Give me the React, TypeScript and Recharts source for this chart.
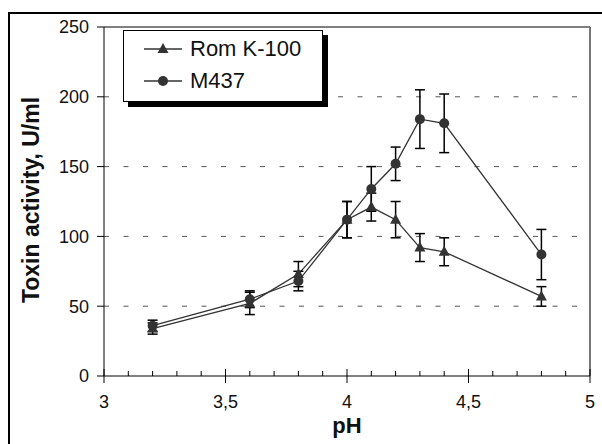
import React from 'react';
import {
  LineChart,
  Line,
  XAxis,
  YAxis,
  ErrorBar,
  ReferenceLine,
  Legend,
} from 'recharts';

const phValues = [3.2, 3.6, 3.8, 4.0, 4.1, 4.2, 4.3, 4.4, 4.8];
const romK100 = [34, 52, 73, 112, 121, 112, 92, 89, 57];
const romK100Err = [4, 8, 9, 13, 10, 13, 10, 10, 7];
const m437 = [36, 55, 68, 112, 134, 152, 184, 181, 87];
const m437Err = [4, 6, 7, 13, 16, 12, 21, 21, 18];

const xTicks = [3, 3.1, 3.2, 3.3, 3.4, 3.5, 3.6, 3.7, 3.8, 3.9, 4, 4.1, 4.2, 4.3, 4.4, 4.5, 4.6, 4.7, 4.8, 4.9, 5];
const xMajor = [3, 3.5, 4, 4.5, 5];
const yTicks = [0, 50, 100, 150, 200, 250];
const gridValues = [50, 100, 150, 200];

const FONT = '"Liberation Sans", Arial, sans-serif';
const MARK = '#333';

const data = phValues.map((ph, i) => ({
  ph,
  rom: romK100[i],
  romErr: romK100Err[i],
  m437: m437[i],
  m437Err: m437Err[i],
}));

const triangle = (cx: number, cy: number) =>
  `${cx},${cy - 6} ${cx + 5.5},${cy + 4} ${cx - 5.5},${cy + 4}`;

const TriangleDot = (props: any) => {
  const { cx, cy, index } = props;
  if (cx == null || cy == null) return <g key={index} />;
  return <polygon key={index} points={triangle(cx, cy)} fill={MARK} />;
};

const CircleDot = (props: any) => {
  const { cx, cy, index } = props;
  if (cx == null || cy == null) return <g key={index} />;
  return <circle key={index} cx={cx} cy={cy} r={5} fill={MARK} />;
};

const XTick = (props: any) => {
  const { x, y, payload } = props;
  const v = payload.value;
  const major = xMajor.some(m => Math.abs(m - v) < 1e-6);
  return (
    <g>
      {major ? (
        <line x1={x} x2={x} y1={y - 7} y2={y + 7} stroke="#000" />
      ) : (
        <line x1={x} x2={x} y1={y - 5} y2={y} stroke="#000" />
      )}
      {major && (
        <text x={x} y={y + 32} textAnchor="middle" fontSize={18} fontFamily={FONT} fill="#111">
          {String(v).replace('.', ',')}
        </text>
      )}
    </g>
  );
};

const LegendBox = () => (
  <div
    style={{
      position: 'relative',
      width: 200,
      height: 72,
      boxSizing: 'border-box',
      border: '1px solid #000',
      background: '#fff',
      boxShadow: '5px 5px 0 #000',
      fontFamily: FONT,
      fontSize: 22,
      color: '#111',
    }}
  >
    {[
      { name: 'Rom K-100', tri: true, top: 18 },
      { name: 'M437', tri: false, top: 50 },
    ].map(item => (
      <div key={item.name} style={{ position: 'absolute', left: 19, top: item.top - 12, height: 24, display: 'flex', alignItems: 'center' }}>
        <svg width={40} height={24}>
          <line x1={1} x2={39} y1={12} y2={12} stroke={MARK} strokeWidth={1.3} />
          {item.tri ? <polygon points={triangle(20, 12)} fill={MARK} /> : <circle cx={20} cy={12} r={5} fill={MARK} />}
        </svg>
        <span style={{ marginLeft: 7, lineHeight: '24px' }}>{item.name}</span>
      </div>
    ))}
  </div>
);

export default function App() {
  return (
    <div style={{ position: 'absolute', left: 0, top: 0, width: 602, height: 444, background: '#fff', overflow: 'hidden' }}>
      {/* outer figure frame */}
      <div style={{ position: 'absolute', left: 8, top: 12, width: 620, height: 460, borderTop: '2px solid #000', borderLeft: '2px solid #000' }} />
      <LineChart
        width={602}
        height={444}
        data={data}
        margin={{ top: 27, right: 12, bottom: 0, left: 0 }}
      >
        <XAxis
          dataKey="ph"
          type="number"
          domain={[3, 5]}
          ticks={xTicks}
          interval={0}
          height={68}
          tickLine={false}
          tickSize={0}
          tickMargin={0}
          tick={<XTick />}
          stroke="#000"
          allowDecimals
        />
        <YAxis
          type="number"
          domain={[0, 250]}
          ticks={yTicks}
          width={104}
          interval={0}
          tickSize={7}
          tickMargin={8}
          stroke="#000"
          tick={{ fontSize: 18, fontFamily: FONT, fill: '#111' }}
        />
        {gridValues.map(v => (
          <ReferenceLine key={v} y={v} stroke="#555" strokeDasharray="5 14.5" />
        ))}
        <ReferenceLine y={250} stroke="#000" strokeWidth={1} />
        <ReferenceLine x={5} stroke="#777" strokeWidth={2} />
        <Legend
          layout="vertical"
          align="center"
          verticalAlign="middle"
          content={<LegendBox />}
          wrapperStyle={{ left: 123, top: 30, width: 200, height: 72 }}
        />
        <Line
          dataKey="rom"
          name="Rom K-100"
          stroke={MARK}
          strokeWidth={1.3}
          dot={<TriangleDot />}
          activeDot={false}
          isAnimationActive={false}
        >
          <ErrorBar dataKey="romErr" direction="y" width={5} stroke="#000" strokeWidth={1.5} />
        </Line>
        <Line
          dataKey="m437"
          name="M437"
          stroke={MARK}
          strokeWidth={1.3}
          dot={<CircleDot />}
          activeDot={false}
          isAnimationActive={false}
        >
          <ErrorBar dataKey="m437Err" direction="y" width={5} stroke="#000" strokeWidth={1.5} />
        </Line>
      </LineChart>
      <div
        style={{
          position: 'absolute',
          left: 31,
          top: 200,
          transform: 'translate(-50%, -50%) rotate(-90deg)',
          whiteSpace: 'nowrap',
          fontFamily: FONT,
          fontWeight: 'bold',
          fontSize: 23,
          color: '#111',
        }}
      >
        Toxin activity, U/ml
      </div>
      <div
        style={{
          position: 'absolute',
          left: 347,
          top: 426,
          transform: 'translate(-50%, -50%)',
          whiteSpace: 'nowrap',
          fontFamily: FONT,
          fontWeight: 'bold',
          fontSize: 22,
          color: '#111',
        }}
      >
        pH
      </div>
    </div>
  );
}
